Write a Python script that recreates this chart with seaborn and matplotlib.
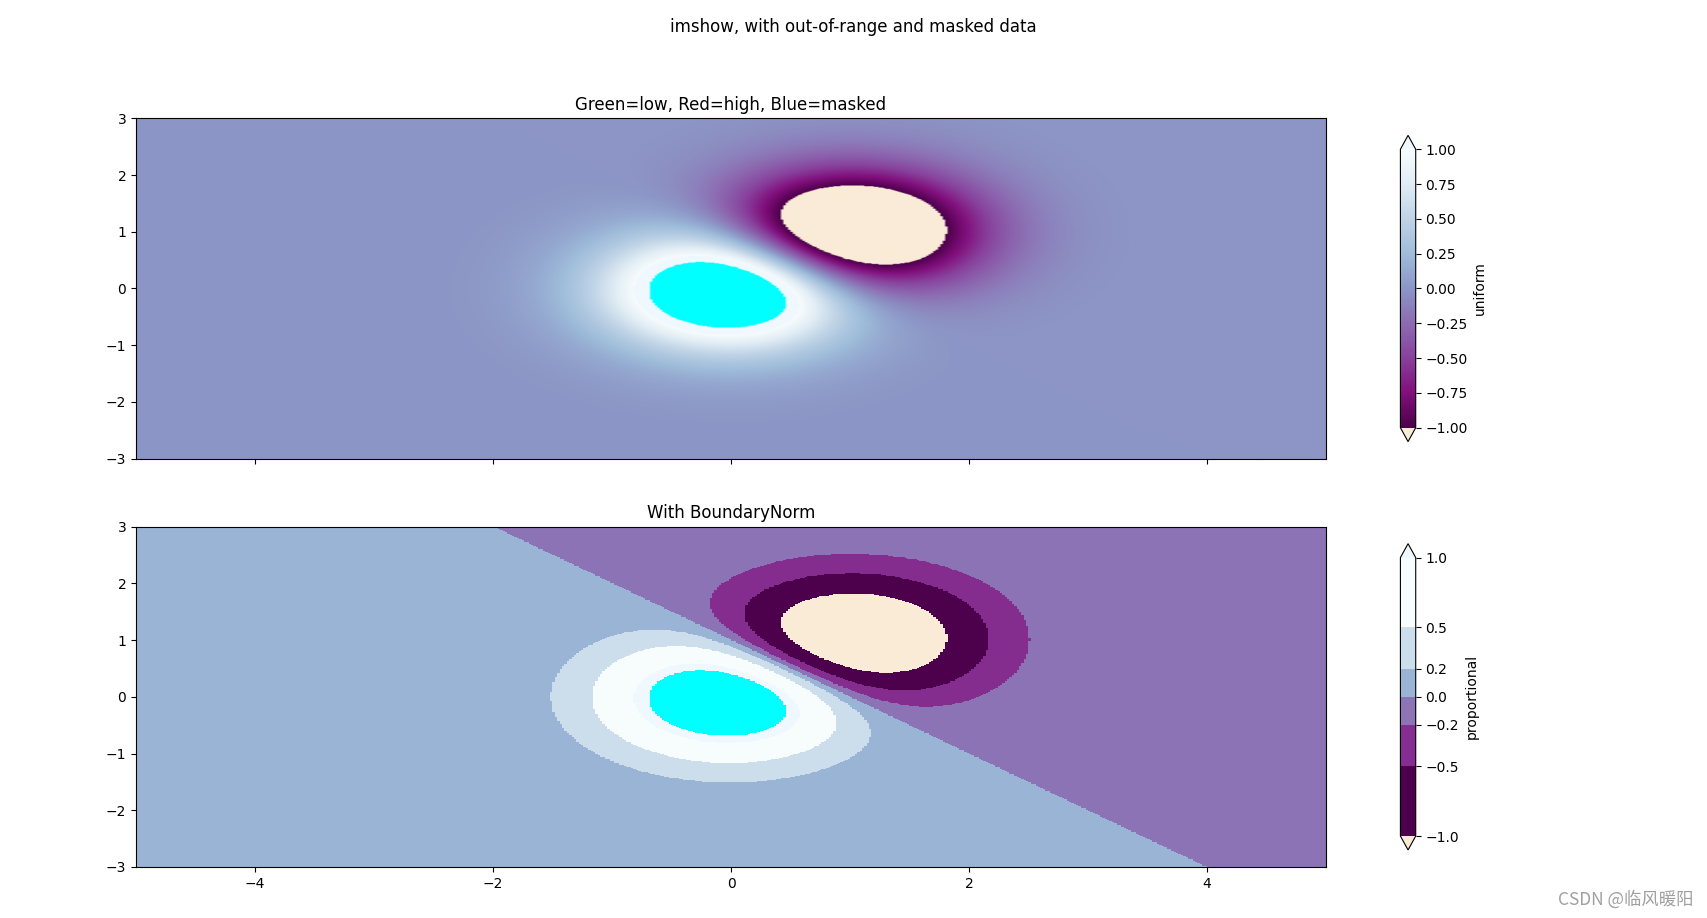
import numpy as np
import matplotlib
matplotlib.use('Agg')
import matplotlib.pyplot as plt
import matplotlib.colors as colors
import seaborn as sns

# extent and resolution of the sampled field
x_range = [-5, 5]
y_range = [-3, 3]
n_points = 500

# two gaussian bumps: positive at (0, 0), negative at (1, 1)
bump_centers = [(0.0, 0.0), (1.0, 1.0)]
bump_signs = [1, -1]
amplitude = 2.0
mask_above = 1.2

# colour scale settings
uniform_range = [-1.0, 1.0]
bounds = [-1, -0.5, -0.2, 0, 0.2, 0.5, 1]

# build the field
x = np.linspace(x_range[0], x_range[1], n_points)
y = np.linspace(y_range[0], y_range[1], n_points)
X, Y = np.meshgrid(x, y)
Z = np.zeros_like(X)
for (cx, cy), s in zip(bump_centers, bump_signs):
    Z += s * np.exp(-(X - cx)**2 - (Y - cy)**2)
Z = Z * amplitude
Zm = np.ma.masked_where(Z > mask_above, Z)

# colormap from seaborn, with out-of-range and masked colours
palette = sns.color_palette('BuPu_r', as_cmap=True).with_extremes(
    over='aliceblue', under='antiquewhite', bad='cyan')

extent = [x_range[0], x_range[1], y_range[0], y_range[1]]

fig, (ax1, ax2) = plt.subplots(nrows=2, figsize=(17.07, 9.18), dpi=100)
fig.subplots_adjust(left=0.0797, right=0.9511, top=0.8711, bottom=0.0556, hspace=0.2)

# continuous colour scale
im = ax1.imshow(Zm, interpolation='bilinear', cmap=palette,
                norm=colors.Normalize(vmin=uniform_range[0], vmax=uniform_range[1]),
                aspect='auto', origin='lower', extent=extent)
ax1.set_title('Green=low, Red=high, Blue=masked')
cbar = fig.colorbar(im, extend='both', shrink=0.9, ax=ax1)
cbar.set_label('uniform')
ax1.tick_params(axis='x', labelbottom=False)

# a few colours with unevenly spaced boundaries
im = ax2.imshow(Zm, interpolation='nearest', cmap=palette,
                norm=colors.BoundaryNorm(bounds, ncolors=palette.N),
                aspect='auto', origin='lower', extent=extent)
ax2.set_title('With BoundaryNorm')
cbar = fig.colorbar(im, extend='both', spacing='proportional', shrink=0.9, ax=ax2)
cbar.set_label('proportional')

fig.suptitle('imshow, with out-of-range and masked data')

fig.text(0.9918, 0.0207, 'CSDN @临风暖阳', ha='right', va='center', fontsize=12.5,
         color='#a0a0a0', family=['Noto Sans CJK SC', 'DejaVu Sans'])

plt.savefig('out.png', dpi=100)
